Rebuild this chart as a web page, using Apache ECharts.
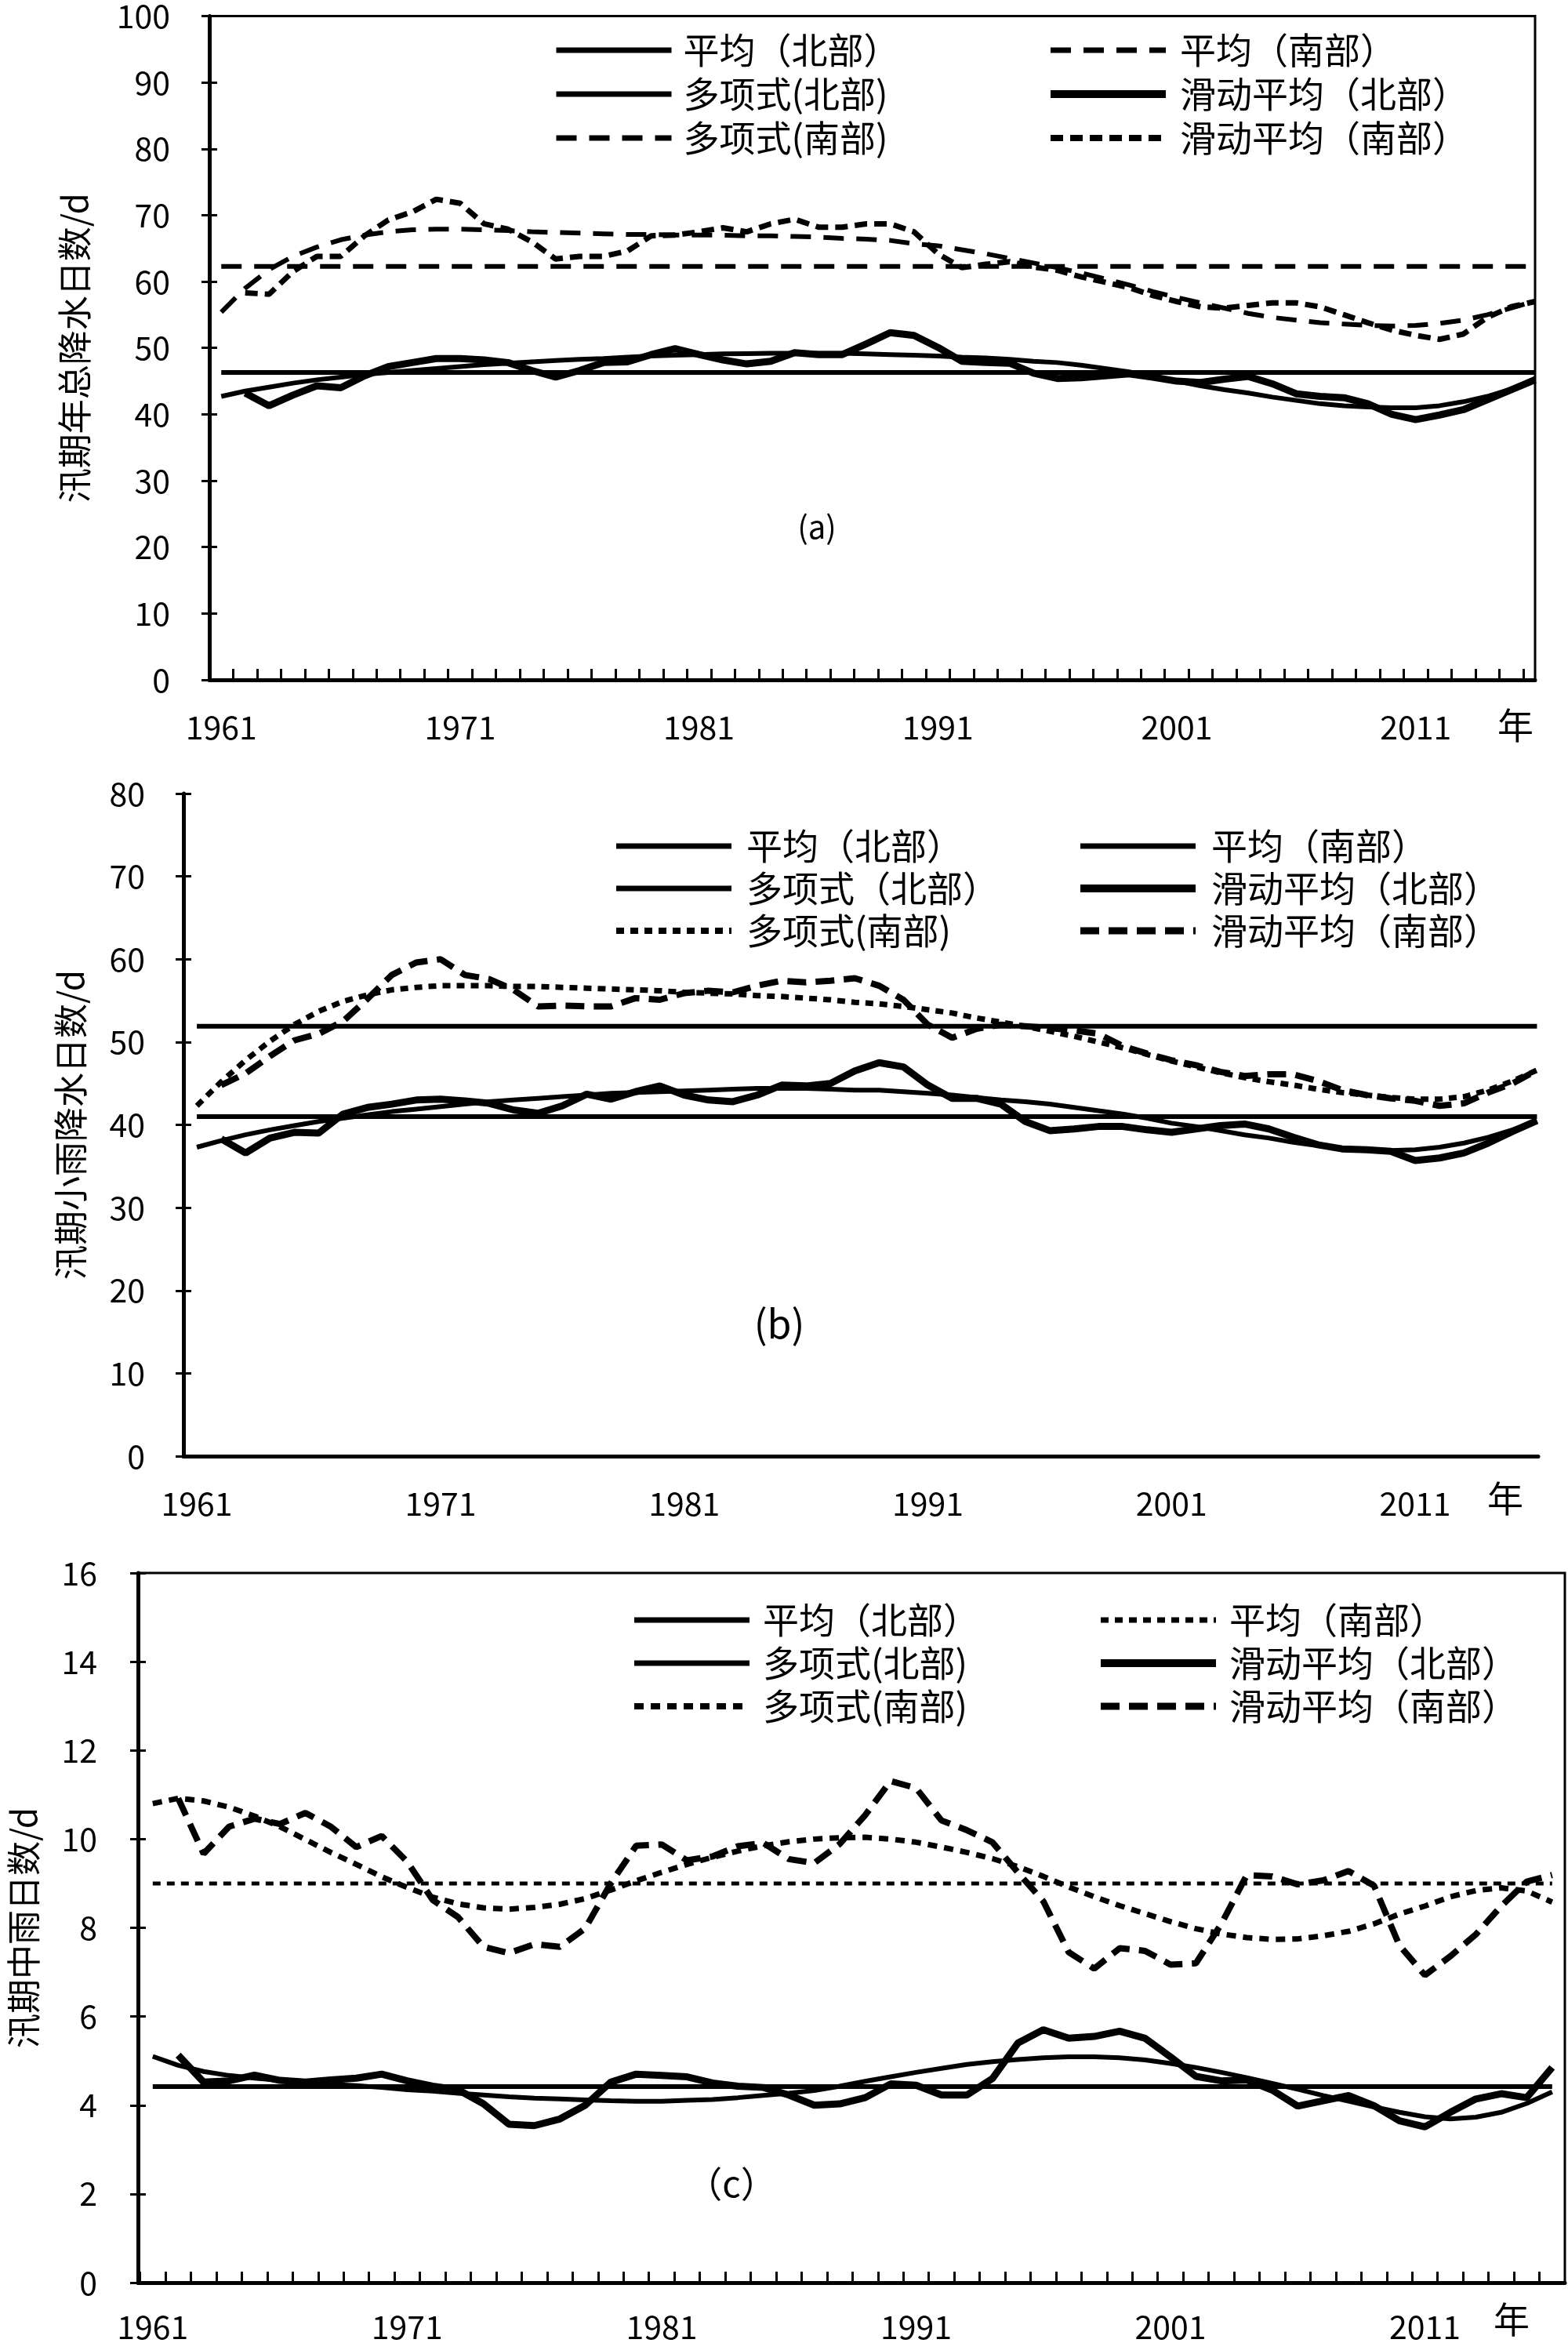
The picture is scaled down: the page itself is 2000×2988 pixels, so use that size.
<!DOCTYPE html>
<html><head><meta charset="utf-8">
<script src="https://cdn.jsdelivr.net/npm/echarts@6/dist/echarts.min.js"></script>
<style>html,body{margin:0;padding:0;background:#fff;}.p{position:absolute;left:0;width:2000px;}</style>
</head><body>
<div id="pa" class="p" style="top:0;height:960px"></div>
<div id="pb" class="p" style="top:960px;height:1000px"></div>
<div id="pc" class="p" style="top:1960px;height:1028px"></div>
<script>
const years = [1961,1962,1963,1964,1965,1966,1967,1968,1969,1970,1971,1972,1973,1974,1975,1976,1977,1978,1979,1980,1981,1982,1983,1984,1985,1986,1987,1988,1989,1990,1991,1992,1993,1994,1995,1996,1997,1998,1999,2000,2001,2002,2003,2004,2005,2006,2007,2008,2009,2010,2011,2012,2013,2014,2015,2016];
const labelYears = [1961,1971,1981,1991,2001,2011];

// Panel (a) 汛期年总降水日数
const meanNorthA = 46.3, meanSouthA = 62.3;
const polyNorthA = [42.7,43.5,44.1,44.7,45.2,45.6,46.0,46.3,46.6,46.9, 47.2,47.5,47.7,47.9,48.1,48.3,48.4,48.6,48.8,48.9, 49.0,49.1,49.15,49.2,49.2,49.2,49.2,49.1,49.0,48.9, 48.8,48.6,48.5,48.3,48.0,47.8,47.4,46.9,46.4,45.7, 45.0,44.3,43.7,43.2,42.6,42.1,41.6,41.3,41.1,41.0, 41.0,41.3,41.9,42.7,43.8,45.4];
const maNorthA = [null,43.2,41.3,42.9,44.3,44.0,45.8,47.2,47.8,48.4, 48.4,48.2,47.8,46.6,45.6,46.6,47.8,47.9,49.0,49.9, 49.0,48.2,47.6,48.0,49.3,49.0,49.0,50.6,52.3,51.9, 50.1,48.0,47.8,47.7,46.2,45.4,45.5,45.8,46.1,45.6, 45.0,44.8,45.3,45.7,44.6,43.1,42.7,42.5,41.6,40.0, 39.2,39.9,40.7,42.2,43.7,45.2];
const polySouthA = [55.4,59.0,61.8,63.8,65.2,66.3,67.0,67.5,67.8,67.9, 67.9,67.8,67.7,67.5,67.4,67.3,67.2,67.1,67.1,67.0, 67.0,67.0,66.9,66.9,66.8,66.7,66.5,66.4,66.2,65.7, 65.4,64.8,64.2,63.5,62.8,62.1,61.3,60.4,59.5,58.5, 57.6,56.8,56.0,55.2,54.6,54.2,53.8,53.6,53.4,53.3, 53.4,53.7,54.2,55.0,56.0,57.1];
const maSouthA = [null,58.3,58.1,61.5,63.8,63.8,66.9,69.3,70.5,72.4, 71.8,68.7,67.9,66.0,63.4,63.8,63.8,64.6,66.9,67.0, 67.5,68.1,67.5,68.7,69.4,68.2,68.2,68.7,68.7,67.5, 64.2,62.1,62.6,63.0,62.2,61.7,60.7,59.9,59.1,57.9, 57.0,56.2,56.0,56.4,56.8,56.8,56.2,55.0,53.8,52.7, 51.9,51.3,52.1,54.6,56.2,57.0];
const namesA = ['平均（北部）','平均（南部）','多项式(北部)','滑动平均（北部）','多项式(南部)','滑动平均（南部）'];

// Panel (b) 汛期小雨降水日数
const meanNorthB = 41.0, meanSouthB = 51.9;
const polyNorthB = [37.3,38.1,38.8,39.4,39.9,40.4,40.8,41.2,41.6,41.9, 42.2,42.5,42.8,43.0,43.2,43.4,43.6,43.8,43.9,44.0, 44.1,44.2,44.3,44.4,44.4,44.4,44.3,44.2,44.2,44.0, 43.8,43.6,43.3,43.0,42.8,42.5,42.1,41.7,41.3,40.8, 40.2,39.8,39.3,38.8,38.4,37.9,37.5,37.2,37.0,36.9, 37.0,37.3,37.8,38.5,39.4,40.5];
const maNorthB = [null,38.3,36.6,38.4,39.1,39.0,41.3,42.1,42.5,43.0, 43.1,42.9,42.6,41.8,41.4,42.3,43.7,43.1,44.0,44.7, 43.6,43.0,42.8,43.6,44.8,44.7,45.0,46.5,47.5,47.0, 44.8,43.2,43.2,42.5,40.4,39.3,39.5,39.8,39.8,39.4, 39.1,39.5,39.9,40.1,39.5,38.5,37.6,37.1,37.0,36.8, 35.7,36.0,36.6,37.8,39.2,40.5];
const polySouthB = [42.3,45.2,47.8,50.1,52.1,53.7,54.9,55.7,56.3,56.6, 56.8,56.8,56.8,56.7,56.7,56.6,56.5,56.4,56.3,56.2, 56.0,55.9,55.8,55.6,55.5,55.3,55.1,54.8,54.6,54.3, 53.9,53.5,52.9,52.4,51.9,51.3,50.7,50.0,49.3,48.5, 47.7,47.0,46.3,45.7,45.2,44.8,44.3,43.9,43.6,43.3, 43.1,43.1,43.4,44.2,45.3,46.6];
const maSouthB = [null,44.8,46.2,48.3,50.2,51.0,52.5,55.2,58.1,59.6, 60.0,58.1,57.6,56.3,54.3,54.4,54.3,54.3,55.3,55.1, 55.9,56.2,56.0,56.8,57.4,57.2,57.4,57.7,56.8,55.1, 52.1,50.5,51.6,52.1,51.9,51.7,51.4,51.0,49.5,48.6, 47.8,47.2,46.4,45.9,46.1,46.1,45.3,44.2,43.6,43.2, 42.9,42.3,42.6,43.9,45.0,46.6];
const namesB = ['平均（北部）','平均（南部）','多项式（北部）','滑动平均（北部）','多项式(南部)','滑动平均（南部）'];

// Panel (c) 汛期中雨日数
const meanNorthC = 4.42, meanSouthC = 9.0;
const polyNorthC = [5.10,4.90,4.76,4.67,4.61,4.56,4.52,4.47,4.44,4.40, 4.35,4.32,4.27,4.23,4.19,4.16,4.14,4.12,4.10,4.09, 4.09,4.11,4.13,4.17,4.22,4.27,4.33,4.43,4.54,4.64, 4.74,4.83,4.92,4.98,5.03,5.07,5.09,5.09,5.07,5.02, 4.94,4.85,4.74,4.62,4.49,4.36,4.22,4.09,3.96,3.84, 3.74,3.69,3.73,3.84,4.04,4.30];
const maNorthC = [null,5.13,4.52,4.55,4.68,4.56,4.52,4.57,4.61,4.70, 4.55,4.43,4.35,4.03,3.57,3.54,3.69,4.00,4.52,4.70, 4.67,4.64,4.50,4.43,4.40,4.23,4.00,4.03,4.17,4.48, 4.45,4.23,4.23,4.60,5.40,5.70,5.51,5.55,5.67,5.51, 5.09,4.65,4.55,4.57,4.34,3.98,4.10,4.22,3.99,3.65, 3.51,3.84,4.14,4.26,4.17,4.85];
const polySouthC = [10.80,10.92,10.86,10.72,10.52,10.28,9.99,9.70,9.43,9.15, 8.91,8.69,8.54,8.45,8.42,8.46,8.53,8.66,8.85,9.06, 9.25,9.43,9.59,9.73,9.85,9.94,10.00,10.03,10.04,10.00, 9.93,9.82,9.70,9.56,9.38,9.16,8.92,8.70,8.50,8.32, 8.14,7.98,7.86,7.78,7.74,7.75,7.82,7.92,8.09,8.31, 8.49,8.70,8.84,8.90,8.83,8.58];
const maSouthC = [null,10.92,9.67,10.28,10.46,10.34,10.59,10.28,9.82,10.07, 9.49,8.63,8.24,7.57,7.43,7.63,7.57,7.99,9.00,9.85, 9.88,9.52,9.61,9.84,9.91,9.55,9.46,9.89,10.54,11.31, 11.15,10.42,10.20,9.93,9.25,8.60,7.45,7.08,7.54,7.48, 7.17,7.20,8.09,9.19,9.16,8.98,9.07,9.28,8.95,7.60, 6.93,7.36,7.85,8.49,9.04,9.19];
const namesC = ['平均（北部）','平均（南部）','多项式(北部)','滑动平均（北部）','多项式(南部)','滑动平均（南部）'];

const FONT = '"Noto Sans CJK SC", "Noto Sans", sans-serif';

function ser(name, vals, w, type, z) {
  return {name: name, type: 'line', data: years.map((y, i) => [y, vals[i]]),
    symbol: 'none', showSymbol: false, silent: true, animation: false, z: z,
    lineStyle: {color: '#000', width: w, type: type}, itemStyle: {color: '#000'}};
}
function flat(v) { return years.map(() => v); }

function build(c) {
  const tickVals = years.map(y => y - 0.5).filter(v => v > c.xMin);
  const item = k => ({name: c.names[k], lineStyle: {color: '#000', width: c.lg[k], type: c.st[k][1]}});
  const legends = c.cols.map((col, k) => ({
    orient: 'vertical', left: col.left, top: c.legTop, itemWidth: 147, itemHeight: 24,
    itemGap: c.legGap, selectedMode: false,
    itemStyle: {color: 'rgba(0,0,0,0)', borderColor: 'rgba(0,0,0,0)', borderWidth: 0, opacity: 0},
    data: k === 0 ? [item(0), item(2), item(4)] : [item(1), item(3), item(5)],
    textStyle: {fontSize: 46, fontFamily: FONT, color: '#000', lineHeight: 50, padding: [0, 0, 0, col.pad]}
  }));
  const yBase = {type: 'value', min: 0, max: c.yMax, interval: c.yInt, splitLine: {show: false}};
  return {
    animation: false,
    grid: Object.assign({show: c.frame, borderColor: '#000', borderWidth: 3, backgroundColor: 'transparent'}, c.grid),
    legend: legends,
    xAxis: {type: 'value', min: c.xMin, max: c.xMax, splitLine: {show: false},
      axisLine: {lineStyle: {color: '#000', width: 5}},
      axisTick: {show: c.xTicks, inside: true, length: 14, lineStyle: {color: '#000', width: 3}, customValues: tickVals},
      axisLabel: {customValues: labelYears, color: '#000', fontSize: 41, fontFamily: FONT, margin: c.xMargin, formatter: v => String(Math.round(v))}},
    yAxis: [
      Object.assign({}, yBase, {
        name: c.yName, nameLocation: 'middle', nameRotate: 90, nameGap: c.nameGap,
        nameTextStyle: {fontSize: 44, fontFamily: FONT, color: '#000'},
        axisLine: {show: true, lineStyle: {color: '#000', width: 5}},
        axisTick: {show: true, inside: false, length: 10, lineStyle: {color: '#000', width: 3}},
        axisLabel: {color: '#000', fontSize: 41, fontFamily: FONT, margin: c.yMargin}}),
      Object.assign({}, yBase, {position: 'left',
        axisLine: {show: false}, axisLabel: {show: false},
        axisTick: {show: true, inside: true, length: 10, lineStyle: {color: '#000', width: 3}}})
    ],
    graphic: [
      {type: 'text', left: c.nian[0], top: c.nian[1], style: {text: '年', fontSize: 46, fontFamily: FONT, fill: '#000'}},
      {type: 'text', x: c.pl[0], y: c.pl[1], style: {text: c.pl[2], fontSize: c.pl[3], fontFamily: FONT, fill: '#000', textAlign: 'center', textVerticalAlign: 'middle'}}
    ],
    series: [
      ser(c.names[0], flat(c.meanN), c.st[0][0], c.st[0][1], 2),
      ser(c.names[1], flat(c.meanS), c.st[1][0], c.st[1][1], 2),
      ser(c.names[2], c.polyN, c.st[2][0], c.st[2][1], 3),
      ser(c.names[3], c.maN, c.st[3][0], c.st[3][1], 4),
      ser(c.names[4], c.polyS, c.st[4][0], c.st[4][1], 3),
      ser(c.names[5], c.maS, c.st[5][0], c.st[5][1], 4)
    ]
  };
}

const cfgA = {grid: {left: 267, top: 15, width: 1691, height: 852}, frame: true, xMin: 1960.5, xMax: 2016, xTicks: true,
  yMax: 100, yInt: 10, yName: '汛期年总降水日数/d', nameGap: 150, yMargin: 50, xMargin: 40,
  names: namesA, meanN: meanNorthA, meanS: meanSouthA, polyN: polyNorthA, maN: maNorthA, polyS: polySouthA, maS: maSouthA,
  st: [[6, 'solid'], [6, [26, 16]], [6, 'solid'], [9, 'solid'], [6, [26, 16]], [7, [16, 9]]],
  lg: [7, 7, 7, 10, 7, 8],
  legTop: 34, legGap: 6, cols: [{left: 701, pad: 10}, {left: 1330, pad: 13}],
  nian: [1910, 902], pl: [1042, 672, '(a)', 40]};
const cfgB = {grid: {left: 234, top: 52, width: 1728, height: 845}, frame: false, xMin: 1960.45, xMax: 2016.05, xTicks: false,
  yMax: 80, yInt: 10, yName: '汛期小雨降水日数/d', nameGap: 122, yMargin: 49, xMargin: 40,
  names: namesB, meanN: meanNorthB, meanS: meanSouthB, polyN: polyNorthB, maN: maNorthB, polyS: polySouthB, maS: maSouthB,
  st: [[6, 'solid'], [6, 'solid'], [6, 'solid'], [9, 'solid'], [7, [10, 8]], [8, [24, 12]]],
  lg: [7, 7, 7, 10, 8, 9],
  legTop: 89, legGap: 4, cols: [{left: 777, pad: 14}, {left: 1368, pad: 15}],
  nian: [1897, 928], pl: [994, 728, '(b)', 50]};
const cfgC = {grid: {left: 170, top: 46, width: 1826, height: 905}, frame: true, xMin: 1960.42, xMax: 2016.5, xTicks: true,
  yMax: 16, yInt: 2, yName: '汛期中雨日数/d', nameGap: 124, yMargin: 52, xMargin: 36,
  names: namesC, meanN: meanNorthC, meanS: meanSouthC, polyN: polyNorthC, maN: maNorthC, polyS: polySouthC, maS: maSouthC,
  st: [[6, 'solid'], [5, [10, 8]], [6, 'solid'], [9, 'solid'], [7, [12, 9]], [8, [24, 12]]],
  lg: [7, 7, 7, 10, 8, 9],
  legTop: 76, legGap: 5, cols: [{left: 800, pad: 12}, {left: 1394, pad: 12}],
  nian: [1905, 975], pl: [933, 825, '（c）', 46]};

[['pa', cfgA], ['pb', cfgB], ['pc', cfgC]].forEach(([id, cfg]) => {
  const ch = echarts.init(document.getElementById(id), null, {renderer: 'canvas'});
  ch.setOption(build(cfg));
});
</script>
</body></html>
